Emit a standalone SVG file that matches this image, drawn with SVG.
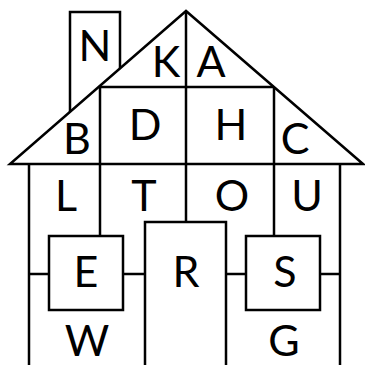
<svg xmlns="http://www.w3.org/2000/svg" width="365" height="365" viewBox="0 0 365 365">
<style>
.l{fill:none;stroke:#000;stroke-width:2.5;stroke-linejoin:miter}
.b{fill:#fff;stroke:#000;stroke-width:2.5}
text{font-family:Lato,"Open Sans",sans-serif;font-size:43px;text-anchor:middle;fill:#000}
</style>
<rect width="365" height="365" fill="#fff"/>
<g id="connectors">
<polyline class="l" points="70,112 70,12 120,12 120,68"/>
<polygon class="l" points="186,11 10,164 363,164"/>
<line class="l" x1="100" y1="87" x2="274" y2="87"/>
<line class="l" x1="186" y1="11" x2="186" y2="222"/>
<line class="l" x1="100" y1="87" x2="100" y2="236"/>
<line class="l" x1="274" y1="87" x2="274" y2="236"/>
<line class="l" x1="29" y1="164" x2="29" y2="365"/>
<line class="l" x1="340" y1="164" x2="340" y2="365"/>
<line class="l" x1="29" y1="274" x2="49" y2="274"/>
<line class="l" x1="123" y1="274" x2="145" y2="274"/>
<line class="l" x1="226" y1="274" x2="246" y2="274"/>
<line class="l" x1="320" y1="274" x2="340" y2="274"/>
</g>
<g id="nE"><rect class="b" x="49" y="236" width="74" height="74"/><text x="86" y="287">E</text></g>
<g id="nR"><rect class="b" x="145" y="222" width="81" height="150"/><text x="186" y="287">R</text></g>
<g id="nS"><rect class="b" x="246" y="236" width="74" height="74"/><text x="285" y="287">S</text></g>
<g id="nN"><text x="95" y="61">N</text></g>
<g id="nK"><text x="166" y="77">K</text></g>
<g id="nA"><text x="211" y="77">A</text></g>
<g id="nB"><text x="77" y="154">B</text></g>
<g id="nD"><text x="145" y="140">D</text></g>
<g id="nH"><text x="231" y="140">H</text></g>
<g id="nC"><text x="295" y="154">C</text></g>
<g id="nL"><text x="66" y="211">L</text></g>
<g id="nT"><text x="144" y="211">T</text></g>
<g id="nO"><text x="232" y="211">O</text></g>
<g id="nU"><text x="307" y="211">U</text></g>
<g id="nW"><text x="87" y="356">W</text></g>
<g id="nG"><text x="284" y="356">G</text></g>
</svg>
